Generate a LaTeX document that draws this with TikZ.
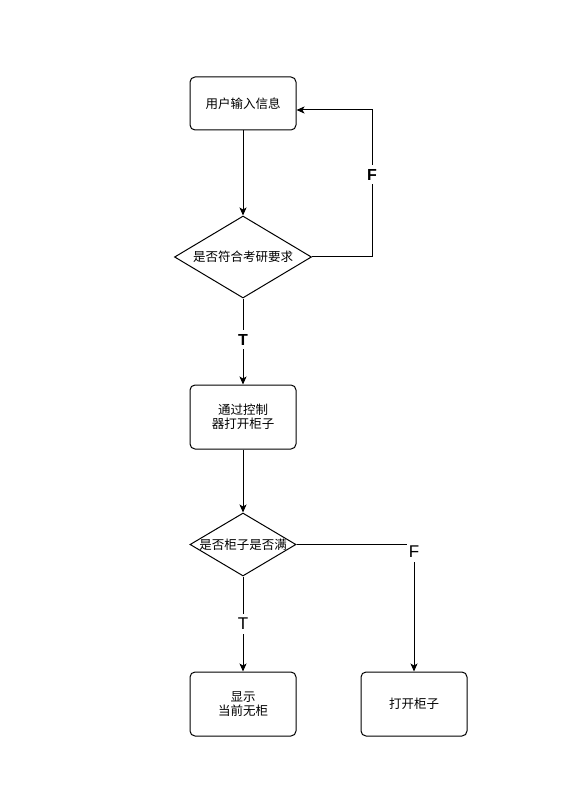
\documentclass[tikz,border=0pt]{standalone}
\usepackage{fontspec}
\setmainfont{Liberation Sans}
\newfontfamily\cjk{Noto Sans CJK SC}
\usetikzlibrary{positioning,shapes.geometric,arrows.meta}

\begin{document}
\begin{tikzpicture}[
  >={Stealth[length=8pt,width=7pt,inset=2pt]},
  line width=1pt,
  every node/.style={font=\cjk\fontsize{12.5}{14.5}\selectfont, align=center},
  box/.style={draw, rounded corners=5pt, minimum width=106pt, minimum height=64pt, inner sep=0pt},
  decision/.style={draw, diamond, inner sep=0pt},
  tf/.style={fill=white, inner xsep=2pt, inner ysep=4pt, font=\fontsize{17}{18}\selectfont},
  tfbold/.style={tf, font=\bfseries\fontsize{16}{18}\selectfont}
]
\useasboundingbox (0pt,0pt) rectangle (587pt,-799pt);

\node[box, minimum height=53pt] (input) at (243pt,-103.5pt) {用户输入信息};

\node[decision, minimum width=137pt, minimum height=82pt, below=85pt of input] (check) {\makebox[0pt]{是否符合考研要求}};

\node[box, below=86pt of check] (open) {通过控制\\器打开柜子};

\node[decision, minimum width=106pt, minimum height=63pt, below=63pt of open] (full) {\makebox[0pt]{是否柜子是否满}};

\node[box, below=95pt of full] (none) {显示\\当前无柜};
\node[box, right=64pt of none] (cabinet) {打开柜子};

\coordinate[right=60pt of check.east] (back);

\draw[->] (input) -- (check);
\draw[->] (check.east) -- (back) |- node[tfbold, pos=0.28] {F} ([yshift=-6.5pt]input.east);
\draw[->] (check) -- node[tfbold, pos=0.48] {T} (open);
\draw[->] (open) -- (full);
\draw[->] (full) -- node[tf] {T} (none);
\draw[->] (full.east) -| node[tf, pos=0.53] {F} (cabinet.north);

\end{tikzpicture}
\end{document}
